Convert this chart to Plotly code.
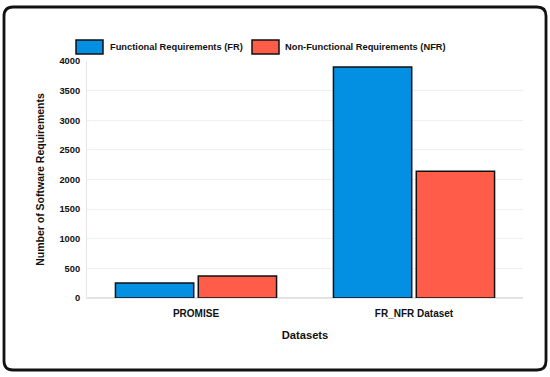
import plotly.graph_objects as go

categories = ["PROMISE", "FR_NFR Dataset"]
fr_values = [255, 3900]
nfr_values = [370, 2140]
series_names = ["Functional Requirements (FR)", "Non-Functional Requirements (NFR)"]
series_colors = ["#0390e3", "#ff5c49"]
y_ticks = [0, 500, 1000, 1500, 2000, 2500, 3000, 3500, 4000]

FONT = "Liberation Sans, Arial, sans-serif"

fig = go.Figure()
for name, vals, col in zip(series_names, [fr_values, nfr_values], series_colors):
    fig.add_trace(go.Bar(x=categories, y=vals, name=name, showlegend=False,
                         marker=dict(color=col, line=dict(color="#111111", width=1.5))))

L, R, T, B = 87, 27, 61, 79
W, H = 550, 377
pw, ph = W - L - R, H - T - B

def px(x):
    return (x - L) / pw

def py(y):
    return (H - B - y) / ph

# rounded outer frame
x0, x1, y0, y1 = px(4), px(546), py(370), py(7)
rx, ry = 9 / pw, 9 / ph
path = (f"M{x0+rx},{y1} L{x1-rx},{y1} Q{x1},{y1} {x1},{y1-ry} "
        f"L{x1},{y0+ry} Q{x1},{y0} {x1-rx},{y0} "
        f"L{x0+rx},{y0} Q{x0},{y0} {x0},{y0+ry} "
        f"L{x0},{y1-ry} Q{x0},{y1} {x0+rx},{y1} Z")
fig.add_shape(type="path", path=path, xref="paper", yref="paper",
              line=dict(color="#111111", width=2.8), layer="above")

# custom legend (swatch + label)
legend_items = [(76, 103, 108), (252, 279, 283)]
for (sx0, sx1, tx), name, col in zip(legend_items, series_names, series_colors):
    fig.add_shape(type="rect", xref="paper", yref="paper",
                  x0=px(sx0), x1=px(sx1), y0=py(54), y1=py(40),
                  fillcolor=col, line=dict(color="#111111", width=1.5))
    fig.add_annotation(xref="paper", yref="paper", x=px(tx), y=py(47),
                       xanchor="left", yanchor="middle", showarrow=False,
                       text=name, font=dict(family=FONT, size=9.3, color="#111111", weight="bold"))

fig.update_layout(
    width=W, height=H,
    margin=dict(l=L, r=R, t=T, b=B, autoexpand=False),
    paper_bgcolor="white", plot_bgcolor="white",
    barmode="group", bargap=0.24, bargroupgap=0.055,
    font=dict(family=FONT, color="#111111"),
    showlegend=False,
    xaxis=dict(title=dict(text="Datasets", font=dict(size=11.2, weight="bold"), standoff=13),
               tickfont=dict(size=10, weight="bold"), showline=True, linecolor="#e6e6e6",
               ticks="", showgrid=False, automargin=False, ticklabelstandoff=6),
    yaxis=dict(title=dict(text="Number of Software Requirements", font=dict(size=10.5, weight="bold"), standoff=12),
               tickfont=dict(size=9.3, weight="bold"), range=[0, 4000], tickvals=y_ticks,
               showgrid=True, gridcolor="#efefef", showline=True, linecolor="#e6e6e6",
               zeroline=True, zerolinecolor="#e0e0e0", ticks="", ticklabelstandoff=4,
               automargin=False),
)

fig.write_html("out.html", config={"displayModeBar": False},
               post_script="document.body.style.margin='0';document.body.style.overflow='hidden';")
